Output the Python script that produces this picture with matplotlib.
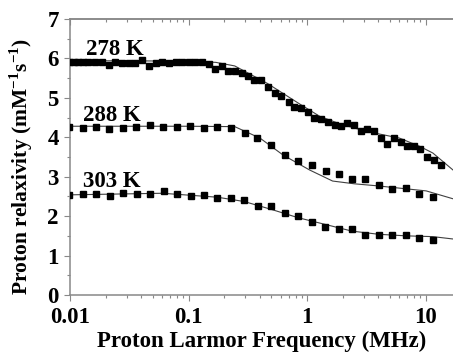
import numpy as np
import matplotlib
matplotlib.use('Agg')
import matplotlib.pyplot as plt
from matplotlib.ticker import LogLocator, MultipleLocator, FixedFormatter, FixedLocator

plt.rcParams['font.family'] = ['Liberation Serif', 'DejaVu Serif']
plt.rcParams['font.weight'] = 'bold'
plt.rcParams['mathtext.fontset'] = 'custom'
plt.rcParams['mathtext.rm'] = 'Liberation Serif:bold'
plt.rcParams['mathtext.bf'] = 'Liberation Serif:bold'

f278 = [0.0098, 0.0108, 0.0116, 0.0128, 0.0143, 0.0164, 0.0187, 0.0212, 0.0239, 0.0274,
        0.0314, 0.0353, 0.0402, 0.0460, 0.0527, 0.0592, 0.0683, 0.0782, 0.0879, 0.100,
        0.114, 0.130, 0.148, 0.168, 0.191, 0.215, 0.246, 0.280, 0.318, 0.357,
        0.407, 0.466, 0.534, 0.608, 0.697, 0.782, 0.895, 1.02, 1.15, 1.31,
        1.50, 1.71, 1.92, 2.19, 2.49, 2.83, 3.22, 3.67, 4.18, 4.75,
        5.41, 6.15, 7.01, 7.98, 8.90, 10.3, 11.75, 13.4]
r278 = [5.90, 5.90, 5.90, 5.91, 5.92, 5.90, 5.90, 5.84, 5.92, 5.88,
        5.89, 5.88, 5.96, 5.82, 5.88, 5.92, 5.89, 5.90, 5.90, 5.90,
        5.90, 5.90, 5.85, 5.74, 5.80, 5.69, 5.69, 5.64, 5.56, 5.46,
        5.45, 5.27, 5.12, 5.05, 4.89, 4.77, 4.75, 4.63, 4.50, 4.47,
        4.38, 4.30, 4.29, 4.36, 4.30, 4.17, 4.22, 4.16, 3.99, 3.82,
        3.98, 3.89, 3.79, 3.77, 3.70, 3.51, 3.43, 3.30]

f288 = [0.0099, 0.0128, 0.0166, 0.0214, 0.0278, 0.0362, 0.0472, 0.0612, 0.0798, 0.103,
        0.135, 0.173, 0.226, 0.297, 0.381, 0.497, 0.648, 0.845, 1.10, 1.43,
        1.85, 2.39, 3.10, 4.05, 5.24, 6.78, 8.79, 11.5]
r288 = [4.26, 4.23, 4.26, 4.21, 4.24, 4.26, 4.30, 4.27, 4.27, 4.28,
        4.24, 4.26, 4.23, 4.10, 3.99, 3.80, 3.54, 3.39, 3.29, 3.14,
        3.07, 2.93, 2.93, 2.78, 2.69, 2.72, 2.55, 2.49]

f303 = [0.0098, 0.0130, 0.0167, 0.0216, 0.0281, 0.0365, 0.0472, 0.0616, 0.0801, 0.104,
        0.135, 0.175, 0.228, 0.296, 0.383, 0.498, 0.647, 0.843, 1.10, 1.42,
        1.84, 2.39, 3.10, 4.02, 5.24, 6.80, 8.83, 11.5]
r303 = [2.54, 2.56, 2.56, 2.52, 2.59, 2.56, 2.56, 2.64, 2.56, 2.50,
        2.54, 2.46, 2.46, 2.41, 2.25, 2.25, 2.07, 2.01, 1.84, 1.72,
        1.68, 1.68, 1.51, 1.51, 1.53, 1.51, 1.44, 1.40]

# fitted curves
fit_f = [0.01, 0.03, 0.1, 0.17, 0.245, 0.46, 0.87, 1.28, 1.89, 3.16, 6.0, 8.9, 11.5, 17.0]
fit278 = [5.94, 5.94, 5.93, 5.90, 5.81, 5.37, 4.84, 4.53, 4.34, 4.15, 3.98, 3.77, 3.60, 3.17]

fit_f2 = [0.01, 0.05, 0.1, 0.245, 0.4, 0.627, 1.05, 1.64, 2.5, 3.86, 10.1, 17.0]
fit288 = [4.28, 4.28, 4.28, 4.27, 3.98, 3.55, 3.17, 2.89, 2.82, 2.77, 2.64, 2.44]

fit_f3 = [0.01, 0.06, 0.175, 0.295, 0.5, 0.84, 1.42, 2.39, 4.0, 6.8, 11.5, 17.0]
fit303 = [2.54, 2.58, 2.48, 2.37, 2.17, 1.96, 1.79, 1.62, 1.54, 1.50, 1.48, 1.42]

temps = ['278 K', '288 K', '303 K']
label_pos = [(0.0136, 6.09), (0.0129, 4.42), (0.0129, 2.75)]

fig = plt.figure(figsize=(4.53, 3.52), dpi=100)
ax = fig.add_axes([0.1545, 0.162, 0.8455, 0.784])

for f, r in [(fit_f, fit278), (fit_f2, fit288), (fit_f3, fit303)]:
    ax.plot(f, r, color='#404040', lw=0.8, zorder=2)
for f, r in [(f278, r278), (f288, r288), (f303, r303)]:
    ax.plot(f, r, 's', color='black', ms=4.3, zorder=3)

for t, (x, y) in zip(temps, label_pos):
    ax.text(x, y, t, fontsize=16.5, fontweight='bold')

ax.set_xscale('log')
ax.set_xlim(0.01, 17)
ax.set_ylim(0, 7)
ax.xaxis.set_major_locator(FixedLocator([0.01, 0.1, 1, 10]))
ax.xaxis.set_major_formatter(FixedFormatter(['0.01', '0.1', '1', '10']))
ax.xaxis.set_minor_locator(LogLocator(base=10, subs=np.arange(2, 10)))
ax.xaxis.set_minor_formatter(plt.NullFormatter())
ax.yaxis.set_major_locator(MultipleLocator(1))
ax.yaxis.set_minor_locator(MultipleLocator(0.5))

for s in ['left', 'bottom', 'top']:
    ax.spines[s].set_color('#888888')
    ax.spines[s].set_linewidth(1.1)
ax.spines['right'].set_visible(False)

ax.tick_params(which='both', direction='out', color='#888888', width=0.8, labelsize=16.5)
ax.tick_params(which='major', length=4.5)
ax.tick_params(which='minor', length=2.2)
ax.tick_params(axis='x', pad=4)

# top ticks point into the plot
top = ax.secondary_xaxis('top')
top.set_xscale('log')
top.xaxis.set_major_locator(FixedLocator([0.01, 0.1, 1, 10]))
top.xaxis.set_minor_locator(LogLocator(base=10, subs=np.arange(2, 10)))
top.tick_params(which='both', direction='in', color='#888888', width=0.8,
                labeltop=False)
top.tick_params(which='major', length=4.5)
top.tick_params(which='minor', length=2.2)
top.spines['top'].set_color('#888888')
top.spines['top'].set_linewidth(1.1)

ax.set_xlabel('Proton Larmor Frequency (MHz)', fontsize=16.5, fontweight='bold', labelpad=2)
ax.set_ylabel(r'Proton relaxivity (mM$^{-1}$s$^{-1}$)', fontsize=15.5, fontweight='bold')
ax.yaxis.set_label_coords(-0.092, 0.465)

fig.savefig('out.png', dpi=100)
